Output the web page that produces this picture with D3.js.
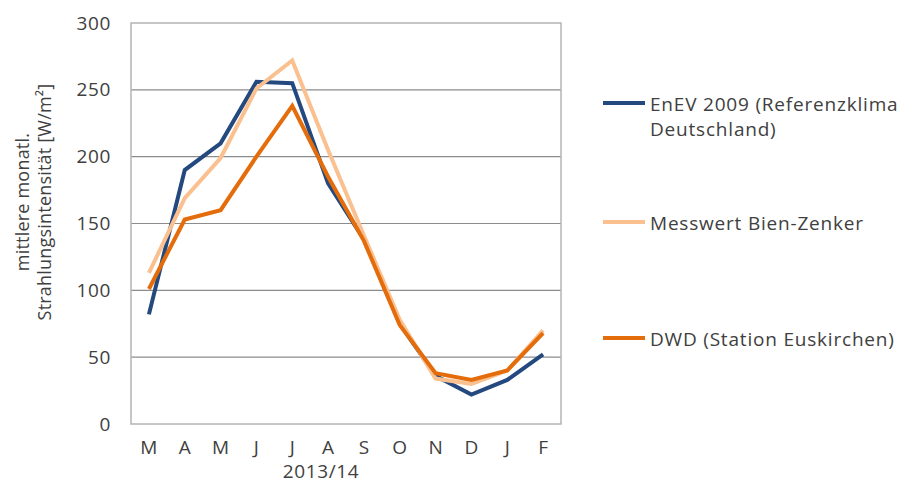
<!DOCTYPE html>
<html><head><meta charset="utf-8">
<script src="https://cdn.jsdelivr.net/npm/d3@7"></script>
<style>
html,body{margin:0;padding:0;background:#fff;}
text{font-family:"Open Sans",sans-serif;fill:#404040;}
</style></head>
<body><svg id="c" width="902" height="488"></svg>
<script>
const months = ["M","A","M","J","J","A","S","O","N","D","J","F"];
const enev = [82,190,210,256,255,180,138,75,36,22,33,52];
const messwert = [113,169,199,251,272,205,141,78,34,30,40,70];
const dwd = [101,153,160,200,238,185,137,74,38,33,40,68];
const seriesNames = ["EnEV 2009 (Referenzklima|Deutschland)","Messwert Bien-Zenker","DWD (Station Euskirchen)"];
const seriesColors = ["#23497e","#fac08f","#e46c0a"];
const yTicks = [0,50,100,150,200,250,300];
const xTitle = "2013/14";
const yTitle = ["mittlere monatl.","Strahlungsintensität [W/m²]"];

const svg = d3.select("#c");
const L=131,R=561,T=23,B=424;
const x = d3.scaleBand().domain(d3.range(months.length)).range([L,R]);
const y = d3.scaleLinear().domain([0,300]).range([B,T]);

svg.append("g").selectAll("line").data(yTicks.filter(d=>d>0&&d<300)).join("line")
  .attr("x1",L).attr("x2",R).attr("y1",d=>y(d)).attr("y2",d=>y(d))
  .attr("stroke","#8c8c8c").attr("stroke-width",1.2);
svg.append("rect").attr("x",L).attr("y",T).attr("width",R-L).attr("height",B-T)
  .attr("fill","none").attr("stroke","#b4b4b4").attr("stroke-width",1.5);

const ya = svg.append("g").attr("transform",`translate(${L},0)`)
  .call(d3.axisLeft(y).tickValues(yTicks).tickSize(0).tickPadding(20));
ya.select(".domain").remove();
ya.selectAll("text").style("font-size","19px").style("letter-spacing","0.6px").attr("fill","#404040").style("font-family","Open Sans");

const xa = svg.append("g").attr("transform",`translate(0,${B})`)
  .call(d3.axisBottom(x).tickFormat(i=>months[i]).tickSize(0).tickPadding(17));
xa.select(".domain").remove();
xa.selectAll("text").style("font-size","19px").attr("fill","#404040").style("font-family","Open Sans");

svg.append("text").attr("x",321).attr("y",478).attr("text-anchor","middle")
  .style("font-size","19px").style("letter-spacing","0.6px").text(xTitle);

const yt = svg.append("text").attr("transform","translate(0,202) rotate(-90)").attr("text-anchor","middle")
  .style("font-size","18px").style("letter-spacing","0.2px");
yt.append("tspan").attr("x",0).attr("y",29).text(yTitle[0]);
yt.append("tspan").attr("x",0).attr("y",51).text(yTitle[1]);

const data=[enev,messwert,dwd];
const line = d3.line().x((d,i)=>x(i)+x.bandwidth()/2).y(d=>y(d));
svg.append("g").selectAll("path").data(data).join("path")
  .attr("d",line).attr("fill","none").attr("stroke",(d,i)=>seriesColors[i])
  .attr("stroke-width",4).attr("stroke-linejoin","miter");

const legY=[103,222,338];
const lg = svg.append("g");
seriesNames.forEach((n,i)=>{
  lg.append("line").attr("x1",603).attr("x2",645).attr("y1",legY[i]).attr("y2",legY[i])
    .attr("stroke",seriesColors[i]).attr("stroke-width",4);
  n.split("|").forEach((t,j)=>{
    lg.append("text").attr("x",650).attr("y",legY[i]+8+j*25).style("font-size","19px")
      .style("letter-spacing","0.8px").text(t);
  });
});
</script></body></html>
